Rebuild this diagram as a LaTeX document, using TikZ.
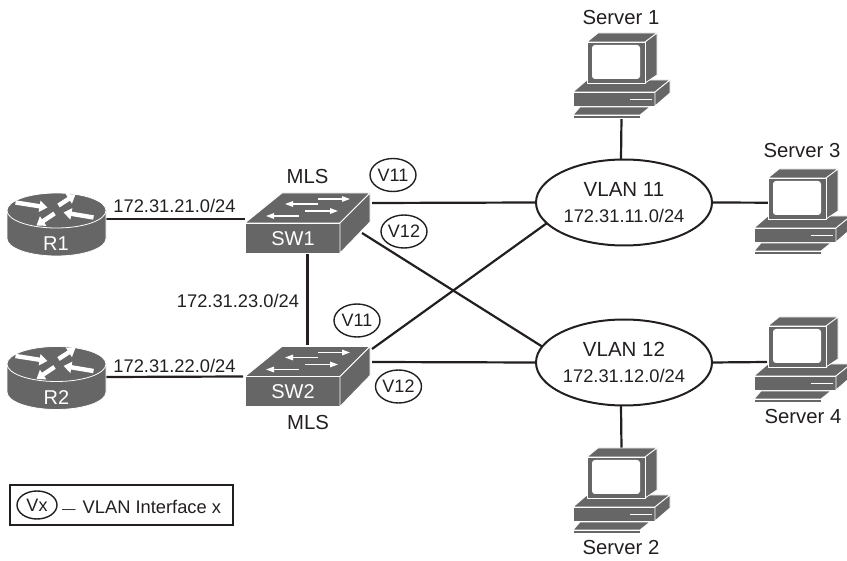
\documentclass[tikz,border=0pt]{standalone}
\usepackage{fontspec}
\setmainfont{Liberation Sans}
\usetikzlibrary{shapes.geometric,arrows.meta}
\definecolor{icon}{HTML}{666666}
\definecolor{ink}{HTML}{231F20}
\tikzset{
  link/.style={draw=ink,line width=2.2pt},
  face/.style={fill=icon,draw=white,line width=0.8pt,line join=round},
  hole/.style={inner sep=0pt,outer sep=0pt,draw=none},
  net/.style={ellipse,draw=ink,line width=2pt,fill=white,minimum width=176pt,minimum height=86pt,inner sep=0pt,outer sep=0pt,align=center,text=ink,font=\fontsize{20.5}{25}\selectfont},
  vif/.style={ellipse,draw=ink,line width=1.4pt,fill=white,minimum width=46pt,minimum height=33pt,inner sep=0pt,text=ink,font=\fontsize{18}{21}\selectfont},
  lbl/.style={inner sep=0pt,text=ink,font=\fontsize{18.3}{22}\selectfont},
  captxt/.style={inner sep=0pt,text=ink,font=\fontsize{20.3}{24}\selectfont},
  wht/.style={inner sep=0pt,text=white,font=\fontsize{20}{24}\selectfont},
  rarrow/.style={white,line width=4.4pt,-{Triangle[width=11pt,length=8pt]}},
  sarrow/.style={white,line width=1.3pt,-{Triangle[width=5.5pt,length=8pt]}},
  router/.pic={
    \path[face] (-49.5,0) -- (-49.5,28) arc[start angle=180,end angle=0,x radius=49.5,y radius=17.5] -- (49.5,0) -- cycle;
    \path[face] (0,0) ellipse[x radius=49.5,y radius=17.5];
    \draw[rarrow] (-41,-8) -- (-9,-3);
    \draw[rarrow] (2,-5) -- (19,-16);
    \draw[rarrow] (37,7) -- (7,2);
    \draw[rarrow] (-2,3) -- (-20,15);
  },
  switchicon/.pic={
    \path[face] (0,30) -- (37,0) -- (125,0) -- (95,30) -- cycle;
    \path[face] (0,30) rectangle (95,60);
    \path[face] (95,30) -- (125,0) -- (125,29) -- (95,60) -- cycle;
    \draw[sarrow] (73,11) -- (40,11);
    \draw[sarrow] (73,6) -- (105,6);
    \draw[sarrow] (60,18) -- (93,18);
    \draw[sarrow] (54,23) -- (21,23);
  },
  servericon/.pic={
    \path[face] (0,59) -- (14,47) -- (97,47) -- (82,59) -- cycle;
    \path[face] (0,59) rectangle (82,73);
    \path[face] (82,59) -- (97,47) -- (97,60) -- (82,73) -- cycle;
    \draw[white,line width=1.2pt] (57,66.5) -- (79,66.5);
    \path[face] (14,9) -- (25,0) -- (84,0) -- (72,9) -- cycle;
    \path[face] (72,9) -- (84,0) -- (84,42) -- (72,50) -- cycle;
    \path[face] (14,9) rectangle (72,50);
    \path[fill=white,rounded corners=3pt] (19,12) rectangle (67,46);
    \path[face] (7,74) -- (77,74) -- (67,82) -- (0,82) -- cycle;
    \path[face] (0,82) rectangle (67,85);
  },
}
\begin{document}
\begin{tikzpicture}[x=1pt,y=-1pt]
\useasboundingbox (0,0) rectangle (847,561);
% anchors for the icons
\node[hole,minimum width=99pt,minimum height=62pt] (R1) at (56.5,224) {};
\node[hole,minimum width=99pt,minimum height=64pt] (R2) at (56.5,378) {};
\node[hole,minimum width=125pt,minimum height=60pt] (SW1) at (307.5,223) {};
\node[hole,minimum width=125pt,minimum height=60pt] (SW2) at (307.5,376.5) {};
\node[hole,minimum width=97pt,minimum height=85pt] (S1) at (621.5,75.5) {};
\node[hole,minimum width=97pt,minimum height=85pt] (S3) at (802.5,211.5) {};
\node[hole,minimum width=97pt,minimum height=85pt] (S4) at (802.5,359.5) {};
\node[hole,minimum width=97pt,minimum height=85pt] (S2) at (621.5,490.5) {};
\node[net] (V11net) at (624,202.5) {VLAN 11\\[1pt]{\fontsize{18.3}{22}\selectfont 172.31.11.0/24}};
\node[net] (V12net) at (624,362.5) {VLAN 12\\[1pt]{\fontsize{18.3}{22}\selectfont 172.31.12.0/24}};
% connectors
\draw[link] ([yshift=5pt]R1.east) -- ([yshift=4pt]SW1.west);
\draw[link] ([yshift=1pt]R2.east) -- ([shift={(-2pt,0pt)}]SW2.west);
\draw[link] ([yshift=-1pt]SW1.south) -- ([yshift=1pt]SW2.north);
\draw[link] ([shift={(2pt,20pt)}]SW1.east) -- (V11net.west);
\draw[link] ([shift={(-8pt,-10pt)}]SW1.east) -- (V12net.169);
\draw[link] ([shift={(2pt,27.5pt)}]SW2.east) -- (V11net.195);
\draw[link] ([shift={(2pt,14.5pt)}]SW2.east) -- (V12net.west);
\draw[link] (S1.south) -- ([xshift=-3pt]V11net.north);
\draw[link] ([shift={(14pt,8.8pt)}]S3.west) -- (V11net.east);
\draw[link] ([shift={(13pt,-2.5pt)}]S4.west) -- (V12net.east);
\draw[link] (S2.north) -- ([xshift=-3pt]V12net.south);
% icons
\pic at (56.5,210.5) {router};
\pic at (56.5,364) {router};
\pic at (245,193) {switchicon};
\pic at (245,346.5) {switchicon};
\pic at (573,33) {servericon};
\pic at (754,169) {servericon};
\pic at (754,317) {servericon};
\pic at (573,448) {servericon};
\node[wht] (R1t) at (56,244) {R1};
\node[wht] (R2t) at (56.5,398) {R2};
\node[wht] (SW1t) at (293,239) {SW1};
\node[wht] (SW2t) at (293,392) {SW2};
% labels
\node[captxt] (c1) at (621,18) {Server 1};
\node[captxt] (c3) at (802,151) {Server 3};
\node[captxt] (c4) at (803,417) {Server 4};
\node[captxt] (c2) at (621,548) {Server 2};
\node[captxt] (m1) at (307.5,177) {MLS};
\node[captxt] (m2) at (308,423) {MLS};
\node[lbl] (a1) at (174.5,205.5) {172.31.21.0/24};
\node[lbl] (a2) at (174.5,366) {172.31.22.0/24};
\node[lbl] (a3) at (238,301) {172.31.23.0/24};
\node[vif] (v1) at (393,175) {V11};
\node[vif] (v2) at (404,231.5) {V12};
\node[vif] (v3) at (357,320.5) {V11};
\node[vif] (v4) at (398.5,386.5) {V12};
% legend
\node[draw=ink,line width=2pt,minimum width=223pt,minimum height=40pt,inner sep=0pt] (leg) at (121.5,505) {};
\node[vif,minimum width=40pt,minimum height=28pt] (vx) at (37,505) {Vx};
\node[lbl,anchor=west] (legt) at (62,507) {{\fontsize{13.5}{16}\selectfont —}\hspace{7pt}VLAN Interface x};
\end{tikzpicture}
\end{document}
